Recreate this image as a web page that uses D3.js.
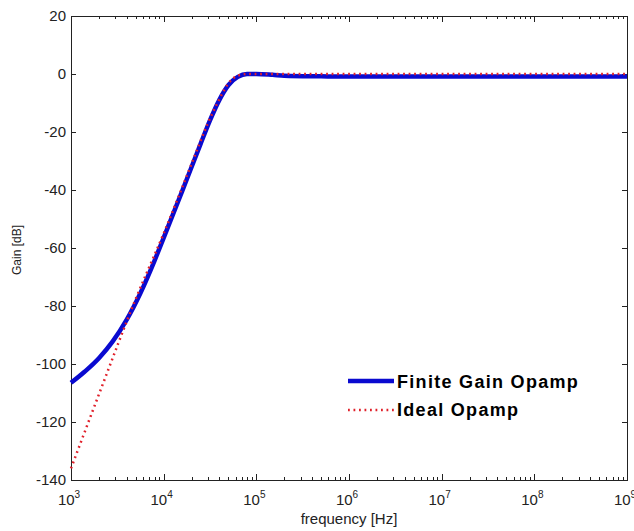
<!DOCTYPE html>
<html>
<head>
<meta charset="utf-8">
<script src="https://cdn.jsdelivr.net/npm/d3@7"></script>
<style>
  body { margin: 0; background: #fff; }
  text { font-family: "Liberation Sans", Arial, sans-serif; fill: #222; }
</style>
</head>
<body>
<script>
// series (frequency in Hz, gain in dB)
var finiteFreq = [1e3, 1.41e3, 2e3, 2.82e3, 3.98e3, 5.62e3, 7.94e3, 1e4, 1.58e4, 2.51e4, 3.16e4, 3.98e4, 5.01e4, 6.31e4, 7.94e4, 1e5, 1.5e5, 2e5, 5e5, 1e6, 1e7, 1e8, 1e9];
var finiteGain = [-106.5, -102.6, -98.0, -92.2, -84.8, -75.5, -64.5, -56.5, -40.5, -24, -16, -9, -3.8, -1, 0, 0, -0.3, -0.6, -0.8, -0.9, -0.9, -0.9, -0.9];

var idealFreq = [1e3, 2e3, 5e3, 1e4, 2e4, 3e4, 3.9e4, 5e4, 6.4e4, 8e4, 1e5, 1e6, 1e7, 1e8, 1e9];
var idealGain = [-136, -110.5, -77.5, -55, -31, -17, -9.3, -3.2, -0.5, 0, 0, 0, 0, 0, 0];

var yTicks = [20, 0, -20, -40, -60, -80, -100, -120, -140];
var xDecades = [3, 4, 5, 6, 7, 8, 9];
var legendNames = ["Finite Gain Opamp", "Ideal Opamp"];

var W = 634, H = 531;
var margin = {left: 71, right: 627, top: 16, bottom: 480};

var svg = d3.select("body").append("svg")
    .attr("width", W)
    .attr("height", H);

var x = d3.scaleLog().domain([1e3, 1e9]).range([margin.left, margin.right]);
var y = d3.scaleLinear().domain([-140, 20]).range([margin.bottom, margin.top]);

// minor ticks (2..9 of every decade)
var minor = [];
xDecades.slice(0, -1).forEach(function(d) {
  for (var k = 2; k <= 9; k++) minor.push(k * Math.pow(10, d));
});

var ticks = svg.append("g").attr("stroke", "#222").attr("stroke-width", 1);
minor.forEach(function(f) {
  var px = Math.round(x(f)) + 0.5;
  ticks.append("line").attr("x1", px).attr("x2", px).attr("y1", margin.bottom).attr("y2", margin.bottom - 3);
  ticks.append("line").attr("x1", px).attr("x2", px).attr("y1", margin.top).attr("y2", margin.top + 3);
});
xDecades.forEach(function(d) {
  var px = Math.round(x(Math.pow(10, d))) + 0.5;
  ticks.append("line").attr("x1", px).attr("x2", px).attr("y1", margin.bottom).attr("y2", margin.bottom - 6);
  ticks.append("line").attr("x1", px).attr("x2", px).attr("y1", margin.top).attr("y2", margin.top + 6);
});
yTicks.forEach(function(v) {
  var py = Math.round(y(v)) + 0.5;
  ticks.append("line").attr("x1", margin.left).attr("x2", margin.left + 5).attr("y1", py).attr("y2", py);
  ticks.append("line").attr("x1", margin.right).attr("x2", margin.right - 5).attr("y1", py).attr("y2", py);
});

// box
svg.append("rect")
    .attr("x", margin.left + 0.5).attr("y", margin.top + 0.5)
    .attr("width", margin.right - margin.left).attr("height", margin.bottom - margin.top)
    .attr("fill", "none").attr("stroke", "#222").attr("stroke-width", 1);

// y tick labels
svg.append("g").selectAll("text").data(yTicks).enter().append("text")
    .attr("x", margin.left - 5)
    .attr("y", function(d) { return y(d); })
    .attr("dy", "0.36em")
    .attr("text-anchor", "end")
    .style("font-size", "15px")
    .text(function(d) { return d; });

// x tick labels as 10^n
var xl = svg.append("g").selectAll("text").data(xDecades).enter().append("text")
    .attr("x", function(d) { return x(Math.pow(10, d)) - 2; })
    .attr("y", 505)
    .attr("text-anchor", "middle")
    .style("font-size", "15px");
xl.append("tspan").text("10");
xl.append("tspan").attr("dy", -7).style("font-size", "10px").text(function(d) { return d; });

// axis titles
svg.append("text")
    .attr("x", (margin.left + margin.right) / 2)
    .attr("y", 524)
    .attr("text-anchor", "middle")
    .style("font-size", "15px")
    .text("frequency [Hz]");

svg.append("text")
    .attr("transform", "translate(21," + ((margin.top + margin.bottom) / 2 + 2) + ") rotate(-90)")
    .attr("text-anchor", "middle")
    .style("font-size", "12px")
    .text("Gain [dB]");

// lines
var line = d3.line()
    .x(function(d) { return x(d[0]); })
    .y(function(d) { return y(d[1]); })
    .curve(d3.curveMonotoneX);

var finite = d3.zip(finiteFreq, finiteGain);
var ideal = d3.zip(idealFreq, idealGain);

svg.append("path")
    .datum(finite)
    .attr("d", line)
    .attr("fill", "none")
    .attr("stroke", "#0a0ad0")
    .attr("stroke-width", 4.5);

svg.append("path")
    .datum(ideal)
    .attr("d", line)
    .attr("fill", "none")
    .attr("stroke", "#e0202a")
    .attr("stroke-width", 2.5)
    .attr("stroke-dasharray", "1.8,3.7");

// legend
var lg = svg.append("g");
lg.append("line").attr("x1", 348).attr("x2", 394).attr("y1", 381).attr("y2", 381)
    .attr("stroke", "#0a0ad0").attr("stroke-width", 4.5);
lg.append("line").attr("x1", 348).attr("x2", 394).attr("y1", 410).attr("y2", 410)
    .attr("stroke", "#e0202a").attr("stroke-width", 2.5).attr("stroke-dasharray", "1.8,3.7");
lg.selectAll("text").data(legendNames).enter().append("text")
    .attr("x", 397)
    .attr("y", function(d, i) { return 388 + i * 28; })
    .style("font-size", "18px")
    .style("letter-spacing", "1.3px")
    .style("font-weight", "bold")
    .style("fill", "#000")
    .text(function(d) { return d; });
</script>
</body>
</html>
